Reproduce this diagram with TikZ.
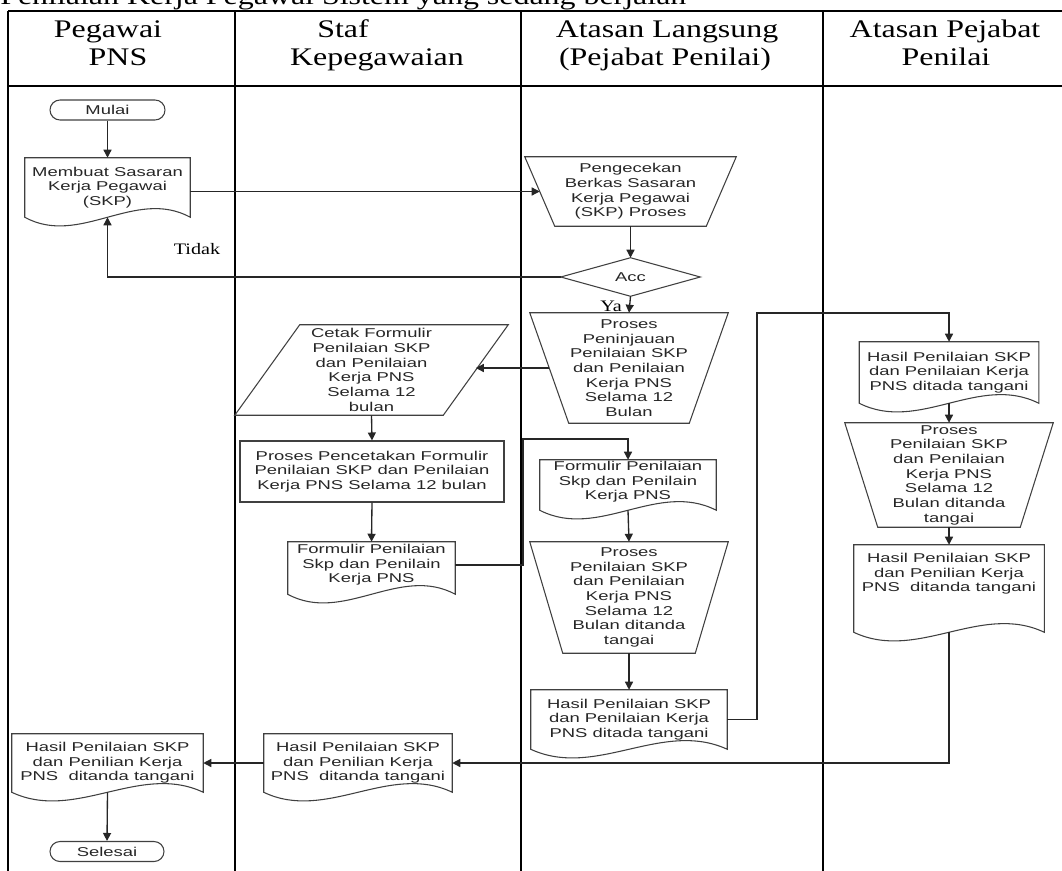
\documentclass[tikz,border=0pt]{standalone}
\usepackage{fontspec}
\setmainfont{Liberation Serif}
\newfontfamily\hdrfont[FakeStretch=1.26]{Liberation Serif}
\newfontfamily\boxfont[FakeStretch=1.44]{Liberation Sans}
\usetikzlibrary{arrows.meta,calc,shapes.misc}

% one drawing unit = one pixel of the layout grid
\newcommand\pxu{0.75pt}

\tikzset{
  boxtext/.style={font={\fontsize{9.6pt}{11pt}\boxfont}, align=center, inner sep=0pt, text=black!85},
  shapeline/.style={draw=black!75, line width=0.8pt},
  term/.style={boxtext, shapeline, rounded rectangle, minimum width=#1*\pxu, minimum height=20*\pxu},
  procbox/.style={boxtext, shapeline, rectangle},
  arr/.style={draw=black!85, line width=1pt, -{Triangle[length=6pt,width=6pt]}},
  lane/.style={draw=black, line width=1.5pt},
  hdr/.style={font={\fontsize{19pt}{21.75pt}\hdrfont}, inner sep=0pt, anchor=base},
  lbl/.style={font={\fontsize{12pt}{14pt}\hdrfont}, inner sep=0pt, anchor=base},
}

% document symbol: name, centre, width, body height, extra side length, text
\newcommand\docnode[6]{%
  \node[boxtext, minimum width=#3*\pxu, minimum height=#4*\pxu] (#1) at (#2) {#6};
  \draw[shapeline] (#1.north west) -- (#1.north east) -- ($(#1.south east)+(0,#5)$)
    .. controls ($(#1.south east)+(-#3/3,#5-30)$) and ($(#1.south west)+(#3/3,#5+30)$)
    .. ($(#1.south west)+(0,#5)$) -- cycle;
  \coordinate (#1-b) at ($(#1.south)+(0,#5)$);
}
% manual operation (wide top edge): name, centre, width, height, inset, text
\newcommand\manop[6]{%
  \node[boxtext, minimum width=#3*\pxu, minimum height=#4*\pxu] (#1) at (#2) {#6};
  \draw[shapeline] (#1.north west) -- (#1.north east) -- ($(#1.south east)+(-#5,0)$)
    -- ($(#1.south west)+(#5,0)$) -- cycle;
  \coordinate (#1-w) at ($(#1.west)+(#5/2,0)$);
}
% data (parallelogram): name, centre, width, height, slant, text
\newcommand\slantbox[6]{%
  \node[boxtext, minimum width=#3*\pxu, minimum height=#4*\pxu] (#1) at (#2) {#6};
  \draw[shapeline] ($(#1.north west)+(#5,0)$) -- (#1.north east) -- ($(#1.south east)+(-#5,0)$)
    -- (#1.south west) -- cycle;
  \coordinate (#1-e) at ($(#1.east)+(-#5/2,0)$);
}
% decision: name, centre, width, height, text
\newcommand\decision[5]{%
  \node[boxtext, minimum width=#3*\pxu, minimum height=#4*\pxu] (#1) at (#2) {#5};
  \draw[shapeline] (#1.north) -- (#1.east) -- (#1.south) -- (#1.west) -- cycle;
}

\begin{document}
\begin{tikzpicture}[x=0.75pt, y=-0.75pt]
\useasboundingbox (0,0) rectangle (1062,870);

% title line and swimlane frame
\node[hdr, anchor=base west] (title) at (0,5) {Penilaian Kerja Pegawai Sistem yang sedang berjalan};
\draw[lane] (8,11) -- (1062,11);
\draw[lane] (8,86) -- (1062,86);
\foreach \lx in {8,234.5,520.5,823} \draw[lane] (\lx,11) -- (\lx,872);

% lane headings
\node[hdr] (hA1) at (108,38) {Pegawai};
\node[hdr] (hA2) at (118,66) {PNS};
\node[hdr] (hB1) at (343,38) {Staf};
\node[hdr] (hB2) at (377,66) {Kepegawaian};
\node[hdr] (hC1) at (667,38) {Atasan Langsung};
\node[hdr] (hC2) at (665,66) {(Pejabat Penilai)};
\node[hdr] (hD1) at (945,38) {Atasan Pejabat};
\node[hdr] (hD2) at (946,66) {Penilai};

% flow steps
\node[term=115] (mulai) at (107.5,110) {Mulai};
\docnode{skp}{107.5,187.5}{165}{59}{0}{Membuat Sasaran\\Kerja Pegawai\\(SKP)}
\manop{cek}{630.5,191.5}{211}{69}{30}{Pengecekan\\Berkas Sasaran\\Kerja Pegawai\\(SKP) Proses}
\decision{acc}{630.5,277}{139}{38}{Acc}
\manop{tinjau}{629,368}{198}{110}{39}{Proses\\Peninjauan\\Penilaian SKP\\dan Penilaian\\Kerja PNS\\Selama 12\\Bulan}
\slantbox{cetak}{371.5,370}{273}{90}{65}{Cetak Formulir\\Penilaian SKP\\dan Penilaian\\Kerja PNS\\Selama 12\\bulan}
\node[procbox, minimum width=264*\pxu, minimum height=61*\pxu] (cetakproses) at (372,471.5)
  {Proses Pencetakan Formulir\\Penilaian SKP dan Penilaian\\Kerja PNS Selama 12 bulan};
\docnode{formA}{371.5,565}{167}{46}{6}{Formulir Penilaian\\Skp dan Penilain\\Kerja PNS}
\docnode{formB}{628,482}{176}{44}{6}{Formulir Penilaian\\Skp dan Penilain\\Kerja PNS}
\manop{nilaiA}{629,597.5}{198}{111}{33}{Proses\\Penilaian SKP\\dan Penilaian\\Kerja PNS\\Selama 12\\Bulan ditanda\\tangai}
\docnode{hasilA}{629,719.5}{196}{59}{0}{Hasil Penilaian SKP\\dan Penilaian Kerja\\PNS ditada tangani}
\docnode{hasilB}{949,372.5}{179}{61}{0}{Hasil Penilaian SKP\\dan Penilaian Kerja\\PNS ditada tangani}
\manop{nilaiB}{949,475}{208}{104}{33}{Proses\\Penilaian SKP\\dan Penilaian\\Kerja PNS\\Selama 12\\Bulan ditanda\\tangai}
\docnode{hasilC}{949,574}{190}{58}{29}{Hasil Penilaian SKP\\dan Penilian Kerja\\PNS\ \ ditanda tangani}
\docnode{hasilD}{358,763}{188}{58}{0}{Hasil Penilaian SKP\\dan Penilian Kerja\\PNS\ \ ditanda tangani}
\docnode{hasilE}{107.5,763}{191}{58}{0}{Hasil Penilaian SKP\\dan Penilian Kerja\\PNS\ \ ditanda tangani}
\node[term=114] (selesai) at (107,851.5) {Selesai};

% bends of the longer connectors
\coordinate (jA) at (523,439);
\coordinate (jB) at (757,313);

% connectors
\draw[arr] (mulai.south) -- (skp.north);
\draw[arr] (skp.east |- cek-w) -- (cek-w);
\draw[arr] (cek.south) -- (acc.north);
\draw[arr] (acc.west) -| (skp-b);
\draw[arr] (acc.south) -- (tinjau.north);
\draw[arr] (tinjau-w) -- (tinjau-w -| cetak-e);
\draw[arr] (cetak.south) -- (cetakproses.north);
\draw[arr] (cetakproses.south) -- (formA.north);
\draw[arr] (formA.east) -| (jA) -| (formB.north);
\draw[arr] (formB-b) -- (nilaiA.north);
\draw[arr] (nilaiA.south) -- (hasilA.north);
\draw[arr] (hasilA.east) -| (jB) -| (hasilB.north);
\draw[arr] (hasilB-b) -- (nilaiB.north);
\draw[arr] (nilaiB.south) -- (hasilC.north);
\draw[arr] (hasilC-b) |- (hasilD.east);
\draw[arr] (hasilD.west) -- (hasilE.east);
\draw[arr] (hasilE-b) -- (selesai.north);

% branch labels
\node[lbl] (tidak) at (197,254) {Tidak};
\node[lbl] (ya) at (611,311) {Ya};
\end{tikzpicture}
\end{document}
